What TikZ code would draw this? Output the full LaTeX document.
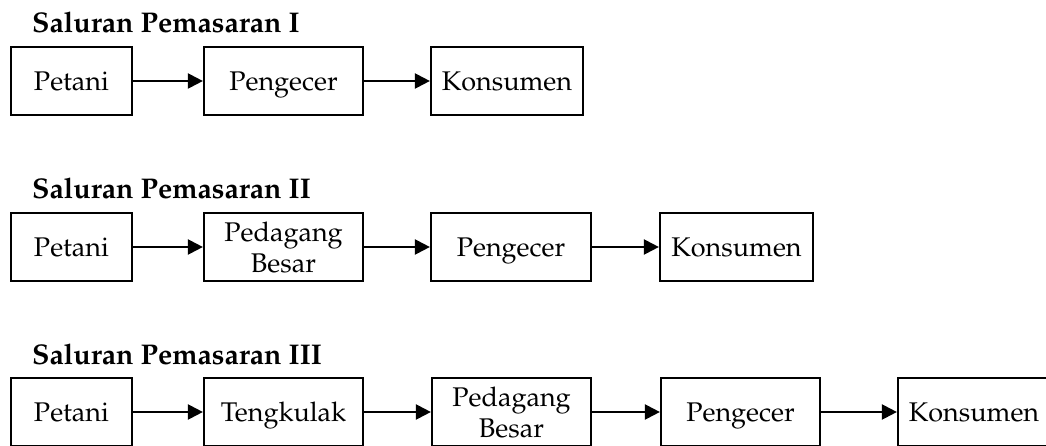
\documentclass[tikz,border=0pt]{standalone}
\usepackage[T1]{fontenc}
\usepackage{mathpazo}
\usetikzlibrary{arrows.meta}
\tikzset{
  flowbox/.style={draw=black, line width=2.2pt, inner sep=0pt, minimum height=68pt, align=center,
    text depth=0pt, font=\fontsize{27}{31}\selectfont},
  rowtitle/.style={anchor=base west, inner sep=0pt, font=\fontsize{28.5}{32}\selectfont\bfseries},
  flowarrow/.style={line width=2.2pt, -{Triangle[length=15pt,width=15pt]}}
}
\begin{document}
\begin{tikzpicture}[x=1pt,y=-1pt]
\useasboundingbox (0,0) rectangle (1046,446);
\clip (0,0) rectangle (1046,446);
% Row 1
\node[rowtitle] (t1) at (32,33) {Saluran Pemasaran I};
\node[flowbox, minimum width=121pt] (a1) at (71.5,81) {Petani};
\node[flowbox, minimum width=159pt] (a2) at (283.5,81) {Pengecer};
\node[flowbox, minimum width=152pt] (a3) at (507,81) {Konsumen};
\draw[flowarrow] (a1.east) -- (a2.west);
\draw[flowarrow] (a2.east) -- (a3.west);
% Row 2
\node[rowtitle] (t2) at (32,199) {Saluran Pemasaran II};
\node[flowbox, minimum width=121pt] (b1) at (71.5,247) {Petani};
\node[flowbox, minimum width=159pt] (b2) at (283.5,247) {Pedagang\\Besar};
\node[flowbox, minimum width=160pt] (b3) at (511,247) {Pengecer};
\node[flowbox, minimum width=153pt] (b4) at (736.5,247) {Konsumen};
\draw[flowarrow] (b1.east) -- (b2.west);
\draw[flowarrow] (b2.east) -- (b3.west);
\draw[flowarrow] (b3.east) -- (b4.west);
% Row 3
\node[rowtitle] (t3) at (32,364) {Saluran Pemasaran III};
\node[flowbox, minimum width=121pt] (c1) at (71.5,412) {Petani};
\node[flowbox, minimum width=159pt] (c2) at (283.5,412) {Tengkulak};
\node[flowbox, minimum width=159pt] (c3) at (511.5,412) {Pedagang\\Besar};
\node[flowbox, minimum width=159pt] (c4) at (740.5,412) {Pengecer};
\node[flowbox, minimum width=152pt] (c5) at (974,412) {Konsumen};
\draw[flowarrow] (c1.east) -- (c2.west);
\draw[flowarrow] (c2.east) -- (c3.west);
\draw[flowarrow] (c3.east) -- (c4.west);
\draw[flowarrow] (c4.east) -- (c5.west);
\end{tikzpicture}
\end{document}
